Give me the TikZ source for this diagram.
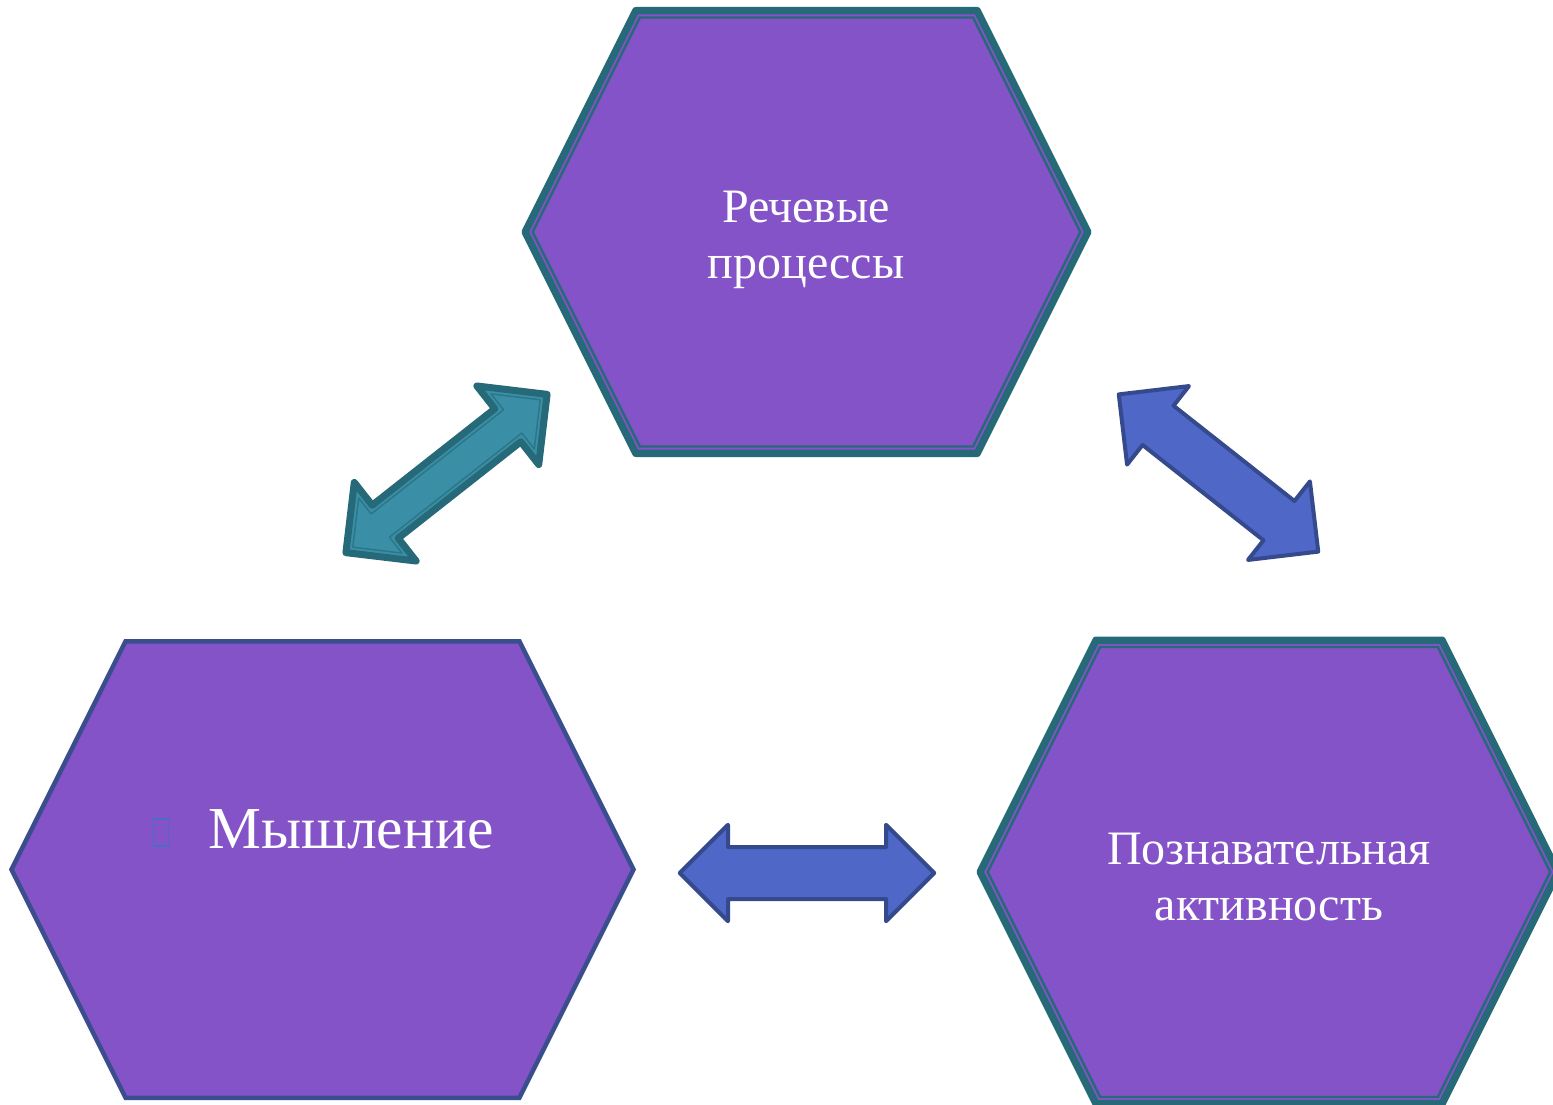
\documentclass[tikz,border=0pt]{standalone}
\usepackage{fontspec}
\setmainfont{Liberation Serif}
\definecolor{hexfill}{HTML}{8553C8}
\definecolor{tealline}{HTML}{266A79}
\definecolor{hexblue}{HTML}{3A4E8E}
\definecolor{tealfill}{HTML}{3A8FA7}
\definecolor{tealinner}{HTML}{2B7788}
\definecolor{bluefill}{HTML}{4F67C7}
\definecolor{blueline}{HTML}{354A8C}
\definecolor{tofucol}{HTML}{4A6CC4}
% hexagon: half-width to point, half-height, slant offset
\newcommand{\hexpath}[3]{({-(#1)},0) -- ({-(#1)+(#3)},{-(#2)}) -- ({(#1)-(#3)},{-(#2)}) -- ({#1},0) -- ({(#1)-(#3)},{#2}) -- ({-(#1)+(#3)},{#2}) -- cycle}
% double arrow: half-length, head length (= head half-width), shaft half-width
\newcommand{\arrowpath}[3]{({#1},0) -- ({(#1)-(#2)},{#2}) -- ({(#1)-(#2)},{#3}) -- ({-(#1)+(#2)},{#3}) -- ({-(#1)+(#2)},{#2}) -- ({-(#1)},0) -- ({-(#1)+(#2)},{-(#2)}) -- ({-(#1)+(#2)},{-(#3)}) -- ({(#1)-(#2)},{-(#3)}) -- ({(#1)-(#2)},{-(#2)}) -- cycle}
\tikzset{
  txt/.style={text=white, inner sep=0pt, anchor=base, font=\fontsize{48}{57}\selectfont},
  txtbig/.style={text=white, inner sep=0pt, anchor=base, font=\fontsize{59.5}{70}\selectfont},
  hexband/.style={draw=tealline, line width=7.3pt, line join=round, fill=hexfill},
  hexinner/.style={draw=tealline, line width=2.4pt},
  hexplain/.style={draw=hexblue, line width=4.5pt, fill=hexfill},
  tealarrow/.style={draw=tealline, line width=7pt, line join=round, fill=tealfill},
  tealarrowin/.style={draw=tealinner, line width=1.5pt, line join=round},
  bluearrow/.style={draw=blueline, line width=4pt, line join=round, fill=bluefill}
}
\begin{document}
\begin{tikzpicture}[x=1pt,y=-1pt]
\useasboundingbox (0,0) rectangle (1553,1105);
\clip (0,0) rectangle (1553,1105);
% centres
\coordinate (topc) at (806.5,232);
\coordinate (leftc) at (322.5,869.5);
\coordinate (rightc) at (1269,872);
% top hexagon
\begin{scope}[shift={(topc)}]
  \path[hexband] \hexpath{281.4}{221.35}{110.7};
  \path[hexinner] \hexpath{273.8}{214.5}{107.25};
\end{scope}
% right hexagon
\begin{scope}[shift={(rightc)}]
  \path[hexband] \hexpath{288.9}{231.85}{115.9};
  \path[hexinner] \hexpath{281.3}{225}{112.5};
\end{scope}
% left hexagon
\begin{scope}[shift={(leftc)}]
  \path[hexplain] \hexpath{311}{228.25}{114.1};
\end{scope}
% teal double arrow (top left)
\begin{scope}[shift={(446.5,473.5)}, rotate=38.2]
  \path[tealarrow] \arrowpath{128}{50}{21};
  \path[tealarrowin] \arrowpath{119.2}{35}{14.75};
\end{scope}
% blue double arrow (top right)
\begin{scope}[shift={(1218.5,473)}, rotate=-38.25]
  \path[bluearrow] \arrowpath{127}{50}{25};
\end{scope}
% blue double arrow (bottom)
\begin{scope}[shift={(807,873)}]
  \path[bluearrow] \arrowpath{127.2}{48.2}{26};
\end{scope}
% texts
\node[txt] (r1) at (806,222) {Речевые};
\node[txt] (r2) at (806,278) {процессы};
\node[draw=tofucol, line width=1.3pt, minimum width=15pt, minimum height=27pt, inner sep=0pt] (bullet) at (161,832.5) {};
\node[txtbig] (m) at (351,848) {Мышление};
\node[txt] (p1) at (1269,864) {Познавательная};
\node[txt] (p2) at (1269,920) {активность};
\end{tikzpicture}
\end{document}
